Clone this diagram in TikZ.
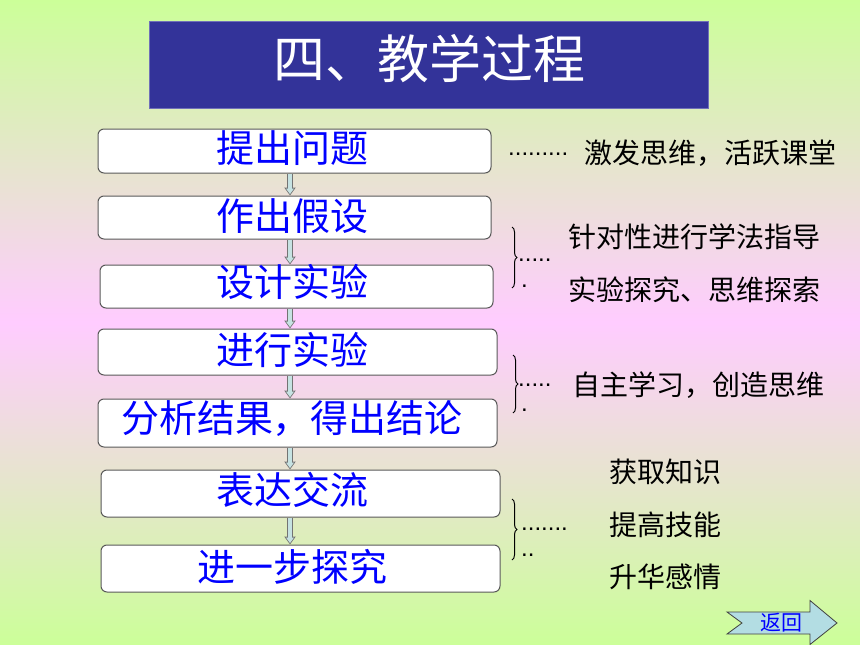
\documentclass[tikz,border=0pt]{standalone}
\usepackage{fontspec}
\setmainfont{Liberation Sans}
\newfontfamily\cjk{Noto Sans CJK SC}
\usetikzlibrary{arrows.meta,decorations.pathreplacing}
\definecolor{bggreen}{HTML}{CCFF99}
\definecolor{bgpink}{HTML}{FFCCFF}
\definecolor{titleblue}{HTML}{333399}
\definecolor{arrfill}{HTML}{C6E2E2}
\definecolor{retfill}{HTML}{B3DDE3}
\tikzset{
  stepbox/.style={draw=black!65, line width=1pt, fill=white, rounded corners=6pt, inner sep=0pt},
  boxtext/.style={text=blue, font=\cjk\fontsize{38}{40}\selectfont, inner sep=0pt},
  note/.style={font=\cjk\fontsize{28}{30}\selectfont, inner sep=0pt, anchor=west},
  dotrow/.style={font=\fontsize{24}{26}\selectfont, inner sep=0pt, anchor=base west},
  flowouter/.style={line width=6pt, draw=black!55, -{Triangle[length=8pt,width=11pt]}},
  flowinner/.style={line width=4pt, draw=arrfill, -{Triangle[length=5.5pt,width=7.5pt]}, shorten >=1.4pt},
  bracel/.style={decorate, decoration={brace, amplitude=5pt}, line width=1pt},
}
\begin{document}
\begin{tikzpicture}[x=1pt,y=-1pt]
\useasboundingbox (0,0) rectangle (860,645);
\shade[top color=bggreen, bottom color=bggreen, middle color=bgpink] (0,0) rectangle (860,645);

% title
\node[fill=titleblue, draw=titleblue!70!white, line width=1pt, minimum width=559pt, minimum height=87pt, inner sep=0pt] (title) at (428.5,64.5) {};
\node[text=white, font=\cjk\fontsize{52}{56}\selectfont, inner sep=0pt] (ttl) at (429,58.5) {四、教学过程};

% boxes
\node[stepbox, minimum width=393pt, minimum height=44pt] (b1) at (294.5,151) {};
\node[stepbox, minimum width=393pt, minimum height=43pt] (b2) at (294.5,217.5) {};
\node[stepbox, minimum width=393pt, minimum height=43pt] (b3) at (296.5,286.5) {};
\node[stepbox, minimum width=399pt, minimum height=46pt] (b4) at (297.5,352) {};
\node[stepbox, minimum width=399pt, minimum height=48pt] (b5) at (297.5,423) {};
\node[stepbox, minimum width=399pt, minimum height=47pt] (b6) at (300.5,493.5) {};
\node[stepbox, minimum width=399pt, minimum height=47pt] (b7) at (300.5,568.5) {};

\node[boxtext] (t1) at (292,148) {提出问题};
\node[boxtext] (t2) at (292,216.5) {作出假设};
\node[boxtext] (t3) at (292,282) {设计实验};
\node[boxtext] (t4) at (292,350) {进行实验};
\node[boxtext] (t5) at (292,418.5) {分析结果，得出结论};
\node[boxtext] (t6) at (292,490) {表达交流};
\node[boxtext] (t7) at (292,566.5) {进一步探究};

% arrows
\coordinate (ax) at (290,0);
\foreach \a/\b in {b1/b2,b2/b3,b3/b4,b4/b5,b5/b6,b6/b7}{
  \draw[flowouter] (\a.south -| ax) -- (\b.north -| ax);
  \draw[flowinner] (\a.south -| ax) -- (\b.north -| ax);
}

% right side notes
\node[dotrow] (d1) at (508,155.5) {.........};
\node[note] (n1) at (584,153) {激发思维，活跃课堂};

\draw[bracel] (512,227) -- (512,288);
\node[dotrow] (d2) at (518,261.5) {.....};
\node[dotrow] (d2b) at (521,287.5) {.};
\node[note] (n2) at (568,237) {针对性进行学法指导};
\node[note] (n3) at (568,290) {实验探究、思维探索};

\draw[bracel] (513,355) -- (513,413);
\node[dotrow] (d3) at (518,386.5) {.....};
\node[dotrow] (d3b) at (521,411.5) {.};
\node[note] (n4) at (572,385) {自主学习，创造思维};

\draw[bracel] (512,499) -- (512,560);
\node[dotrow] (d4) at (521,530.5) {.......};
\node[dotrow] (d4b) at (521,556.5) {..};
\node[note] (n5) at (609,472) {获取知识};
\node[note] (n6) at (609,525) {提高技能};
\node[note] (n7) at (609,577) {升华感情};

% return button
\draw[draw=black!75, fill=retfill, line width=0.8pt, line join=miter]
  (727,612) -- (742,623) -- (727,634) -- (810,634) -- (810,644.5) -- (837,623) -- (810,600.5) -- (810,612) -- cycle;
\node[text=blue, font=\cjk\fontsize{21}{23}\selectfont, inner sep=0pt] (ret) at (781.5,623) {返回};
\end{tikzpicture}
\end{document}
